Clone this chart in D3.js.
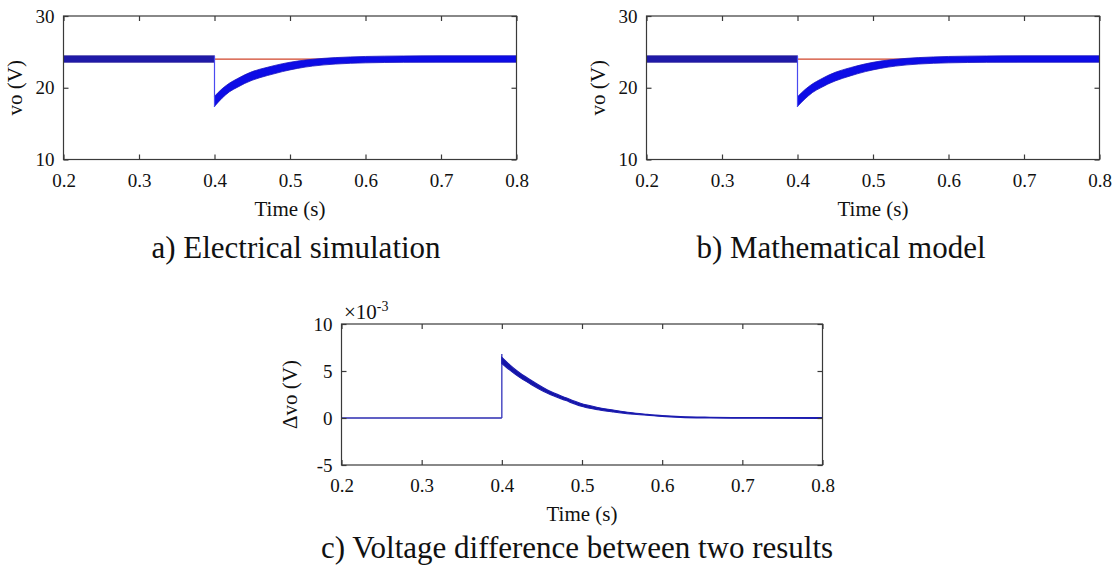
<!DOCTYPE html>
<html><head><meta charset="utf-8">
<script src="https://cdn.jsdelivr.net/npm/d3@7"></script>
<style>
html,body{margin:0;padding:0;background:#fff;}
svg{display:block;}
text{font-family:"Liberation Serif","Times New Roman",serif;fill:#111;}
</style></head>
<body>
<svg id="chart" width="1114" height="572"></svg>
<script>
// ---------------- DATA ----------------
const xTicks = [0.2, 0.3, 0.4, 0.5, 0.6, 0.7, 0.8];
const vTicks = [10, 20, 30];
const dTicks = [-5, 0, 5, 10];
const refVoltage = 24;
const stepTime = 0.4;

// panel a: electrical simulation (ripple band envelope)
const aPreTime = [0.2, 0.4];
const aPreUpper = [24.45, 24.45];
const aPreLower = [23.55, 23.55];
const aPostTime  = [0.4, 0.41, 0.42, 0.43, 0.44, 0.45, 0.47, 0.49, 0.51, 0.53, 0.56, 0.60, 0.65, 0.70, 0.80];
const aPostUpper = [18.8, 19.85, 20.65, 21.25, 21.8, 22.25, 22.85, 23.35, 23.72, 23.97, 24.2, 24.36, 24.43, 24.46, 24.46];
const aPostLower = [17.4, 18.55, 19.45, 20.05, 20.6, 21.05, 21.7, 22.25, 22.7, 23.02, 23.3, 23.47, 23.54, 23.55, 23.55];
const aStepMin = 17.3;

// panel b: mathematical model
const bPreTime = [0.2, 0.4];
const bPreUpper = [24.45, 24.45];
const bPreLower = [23.55, 23.55];
const bPostTime  = [0.4, 0.41, 0.42, 0.43, 0.44, 0.45, 0.47, 0.49, 0.51, 0.53, 0.56, 0.60, 0.65, 0.70, 0.80];
const bPostUpper = [18.75, 19.75, 20.55, 21.15, 21.7, 22.15, 22.8, 23.33, 23.72, 23.97, 24.2, 24.36, 24.43, 24.46, 24.46];
const bPostLower = [17.4, 18.45, 19.35, 19.95, 20.5, 20.95, 21.65, 22.25, 22.7, 23.02, 23.3, 23.47, 23.54, 23.55, 23.55];
const bStepMin = 17.3;

// panel c: difference (x 1e-3 V)
const cPreTime = [0.2, 0.4];
const cPreValue = [0, 0];
const cPostTime  = [0.4, 0.41, 0.42, 0.436, 0.457, 0.48, 0.498, 0.52, 0.539, 0.56, 0.581, 0.6, 0.623, 0.66, 0.7, 0.8];
const cPostUpper = [6.45, 5.65, 4.95, 4.04, 2.98, 2.15, 1.56, 1.12, 0.85, 0.58, 0.40, 0.26, 0.15, 0.08, 0.05, 0.04];
const cPostLower = [5.8, 5.1, 4.45, 3.6, 2.63, 1.85, 1.28, 0.88, 0.64, 0.42, 0.30, 0.16, 0.06, 0.0, -0.03, -0.04];
const cStepMax = 6.8;

const captions = ["a) Electrical simulation", "b) Mathematical model", "c) Voltage difference between two results"];

// ---------------- DRAW ----------------
const svg = d3.select("#chart");
const FONT_TICK = 19, FONT_LABEL = 21, FONT_CAP = 31;
const fmtY = d => String(d); // hyphen-minus like the original

function panel(cfg) {
  const x = d3.scaleLinear().domain([0.2, 0.8]).range([cfg.x0, cfg.x1]);
  const y = d3.scaleLinear().domain(cfg.yDomain).range([cfg.y1, cfg.y0]);
  const g = svg.append("g");

  const clipId = "clip" + cfg.id;
  svg.append("clipPath").attr("id", clipId).append("rect")
    .attr("x", cfg.x0).attr("y", cfg.y0).attr("width", cfg.x1 - cfg.x0).attr("height", cfg.y1 - cfg.y0);
  const plot = g.append("g").attr("clip-path", `url(#${clipId})`);
  cfg.draw(plot, x, y);

  g.append("rect").attr("x", cfg.x0).attr("y", cfg.y0)
    .attr("width", cfg.x1 - cfg.x0).attr("height", cfg.y1 - cfg.y0)
    .attr("fill", "none").attr("stroke", "#3a3a3a").attr("stroke-width", 1.2);

  const tl = 5;
  const xb = d3.axisBottom(x).tickValues(xTicks).tickSize(-tl).tickPadding(tl + 9).tickFormat(d3.format(".1f"));
  const gxb = g.append("g").attr("transform", `translate(0,${cfg.y1})`).call(xb);
  const xt = d3.axisTop(x).tickValues(xTicks).tickSize(-tl).tickFormat("");
  const gxt = g.append("g").attr("transform", `translate(0,${cfg.y0})`).call(xt);
  const yl = d3.axisLeft(y).tickValues(cfg.yTicks).tickSize(-tl).tickPadding(tl + 4).tickFormat(fmtY);
  const gyl = g.append("g").attr("transform", `translate(${cfg.x0},0)`).call(yl);
  const yr = d3.axisRight(y).tickValues(cfg.yTicks).tickSize(-tl).tickFormat("");
  const gyr = g.append("g").attr("transform", `translate(${cfg.x1},0)`).call(yr);
  [gxb, gxt, gyl, gyr].forEach(a => {
    a.select(".domain").remove();
    a.selectAll(".tick line").attr("stroke", "#3a3a3a").attr("stroke-width", 1.2);
    a.selectAll("text").attr("font-family", '"Liberation Serif","Times New Roman",serif')
      .attr("font-size", FONT_TICK).attr("fill", "#111");
  });

  g.append("text").attr("x", (cfg.x0 + cfg.x1) / 2).attr("y", cfg.y1 + 56)
    .attr("text-anchor", "middle").attr("font-size", FONT_LABEL).text("Time (s)");
  g.append("text").attr("transform", `translate(${cfg.ylabX},${(cfg.y0 + cfg.y1) / 2}) rotate(-90)`)
    .attr("text-anchor", "middle").attr("font-size", FONT_LABEL).text(cfg.ylab);
  g.append("text").attr("x", cfg.capX).attr("y", cfg.capY)
    .attr("text-anchor", "middle").attr("font-size", FONT_CAP).text(cfg.caption);
  return { x, y, g };
}

function bandPanel(preT, preU, preL, postT, postU, postL, stepMin) {
  return function (plot, x, y) {
    plot.append("line").attr("x1", x(0.2)).attr("x2", x(0.8))
      .attr("y1", y(refVoltage)).attr("y2", y(refVoltage))
      .attr("stroke", "#d0452a").attr("stroke-width", 1.2);
    const area = d3.area().curve(d3.curveMonotoneX)
      .x(d => x(d.t)).y0(d => y(d.lo)).y1(d => y(d.hi));
    const pre = preT.map((t, i) => ({ t, hi: preU[i], lo: preL[i] }));
    const post = postT.map((t, i) => ({ t, hi: postU[i], lo: postL[i] }));
    plot.append("path").datum(pre).attr("d", area).attr("fill", "#1f1aa8").attr("stroke", "#2a1f9a").attr("stroke-width", 0.8);
    plot.append("path").datum(post).attr("d", area).attr("fill", "#0d0ce6").attr("stroke", "#1a15c0").attr("stroke-width", 0.8);
    plot.append("line").attr("x1", x(stepTime)).attr("x2", x(stepTime))
      .attr("y1", y(preU[preU.length - 1])).attr("y2", y(stepMin))
      .attr("stroke", "#4a4af0").attr("stroke-width", 1.2);
  };
}

panel({
  id: "a", x0: 63.5, x1: 516.5, y0: 16, y1: 159.5, yDomain: [10, 30], yTicks: vTicks,
  ylab: "vo (V)", ylabX: 22, caption: captions[0], capX: 296, capY: 258,
  draw: bandPanel(aPreTime, aPreUpper, aPreLower, aPostTime, aPostUpper, aPostLower, aStepMin)
});
panel({
  id: "b", x0: 646.5, x1: 1099.5, y0: 16, y1: 159.5, yDomain: [10, 30], yTicks: vTicks,
  ylab: "vo (V)", ylabX: 605, caption: captions[1], capX: 841, capY: 258,
  draw: bandPanel(bPreTime, bPreUpper, bPreLower, bPostTime, bPostUpper, bPostLower, bStepMin)
});
const pc = panel({
  id: "c", x0: 341.5, x1: 822.5, y0: 324, y1: 465, yDomain: [-5, 10], yTicks: dTicks,
  ylab: "\u0394vo (V)", ylabX: 297, caption: captions[2], capX: 577, capY: 558,
  draw: function (plot, x, y) {
    const line = d3.line().x(d => x(d.t)).y(d => y(d.v));
    const pre = cPreValue.map((v, i) => ({ t: cPreTime[i], v }));
    plot.append("path").datum(pre).attr("d", line).attr("fill", "none").attr("stroke", "#2b2bb0").attr("stroke-width", 1.5);
    plot.append("line").attr("x1", x(stepTime)).attr("x2", x(stepTime))
      .attr("y1", y(0)).attr("y2", y(cStepMax)).attr("stroke", "#3333bb").attr("stroke-width", 1.3);
    const area = d3.area().curve(d3.curveMonotoneX)
      .x(d => x(d.t)).y0(d => y(d.lo)).y1(d => y(d.hi));
    const post = cPostTime.map((t, i) => ({ t, hi: cPostUpper[i], lo: cPostLower[i] }));
    plot.append("path").datum(post).attr("d", area).attr("fill", "#1414a8").attr("stroke", "#1c1cb0").attr("stroke-width", 1.1);
  }
});
const ex = pc.g.append("text").attr("x", 344).attr("y", 319).attr("font-size", 21);
ex.append("tspan").text("\u00d710");
ex.append("tspan").attr("dy", -8).attr("font-size", 14).text("-3");
</script>
</body></html>
